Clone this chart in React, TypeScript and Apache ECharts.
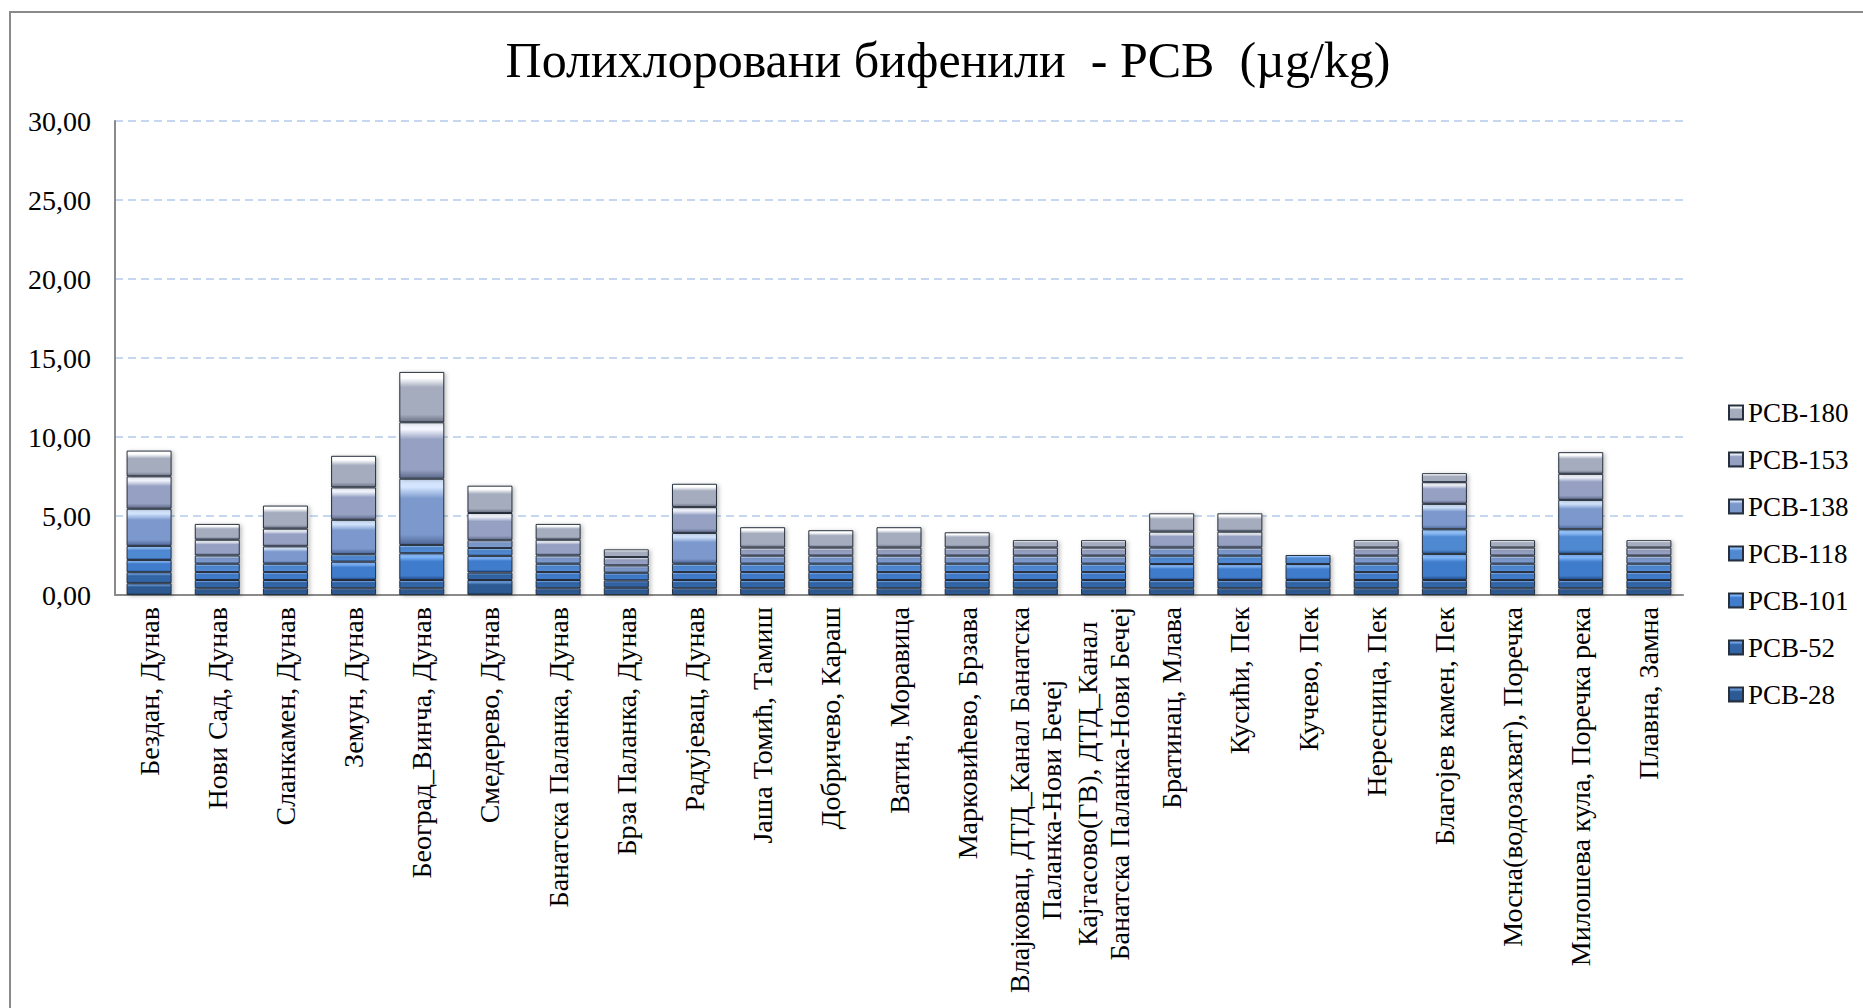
import React, { useEffect, useRef } from "react";
import * as echarts from "echarts";

const categories = [
  "Бездан, Дунав",
  "Нови Сад, Дунав",
  "Сланкамен, Дунав",
  "Земун, Дунав",
  "Београд_Винча, Дунав",
  "Смедерево, Дунав",
  "Банатска Паланка, Дунав",
  "Брза Паланка, Дунав",
  "Радујевац, Дунав",
  "Јаша Томић, Тамиш",
  "Добричево, Караш",
  "Ватин, Моравица",
  "Марковићево, Брзава",
  "Влајковац, ДТД_Канал Банатска\nПаланка-Нови Бечеј",
  "Кајтасово(ГВ), ДТД_Канал\nБанатска Паланка-Нови Бечеј",
  "Братинац, Млава",
  "Кусићи, Пек",
  "Кучево, Пек",
  "Нересница, Пек",
  "Благојев камен, Пек",
  "Мосна(водозахват), Поречка",
  "Милошева кула, Поречка река",
  "Плавна, Замна",
];

const pcb28 = [0.74, 0.42, 0.42, 0.42, 0.42, 0.95, 0.42, 0.46, 0.42, 0.42, 0.42, 0.42, 0.42, 0.42, 0.42, 0.42, 0.42, 0.42, 0.42, 0.42, 0.42, 0.42, 0.42];
const pcb52 = [0.70, 0.53, 0.53, 0.53, 0.53, 0.47, 0.53, 0.46, 0.53, 0.53, 0.53, 0.53, 0.53, 0.53, 0.53, 0.53, 0.53, 0.53, 0.53, 0.53, 0.53, 0.53, 0.53];
const pcb101 = [0.78, 0.50, 0.50, 1.16, 1.69, 1.06, 0.50, 0.49, 0.50, 0.50, 0.50, 0.50, 0.50, 0.50, 0.50, 1.01, 1.01, 1.01, 0.50, 1.65, 0.50, 1.65, 0.50];
const pcb118 = [0.89, 0.53, 0.53, 0.47, 0.53, 0.49, 0.53, 0, 0.53, 0.53, 0.53, 0.53, 0.53, 0.53, 0.53, 0.53, 0.53, 0.57, 0.53, 1.56, 0.53, 1.56, 0.53];
const pcb138 = [2.35, 0.52, 1.10, 2.18, 4.19, 0.49, 0.52, 0.46, 1.95, 0.51, 0.51, 0.51, 0.51, 0.51, 0.51, 0.51, 0.51, 0, 0.51, 1.61, 0.51, 1.86, 0.51];
const pcb153 = [2.05, 1.00, 1.12, 2.05, 3.57, 1.73, 1.00, 0.53, 1.63, 0.51, 0.51, 0.51, 0.51, 0.51, 0.51, 1.01, 1.01, 0, 0.51, 1.37, 0.51, 1.65, 0.51];
const pcb180 = [1.63, 1.00, 1.46, 2.00, 3.19, 1.73, 1.00, 0.49, 1.48, 1.29, 1.10, 1.29, 0.97, 0.47, 0.47, 1.16, 1.16, 0, 0.47, 0.57, 0.47, 1.37, 0.47];

const seriesNames = ["PCB-28", "PCB-52", "PCB-101", "PCB-118", "PCB-138", "PCB-153", "PCB-180"];
const seriesData = [pcb28, pcb52, pcb101, pcb118, pcb138, pcb153, pcb180];

const yTicks = { min: 0, max: 30, interval: 5 };
const titleText = "Полихлоровани бифенили  - PCB  (µg/kg)";

// [highlight, base, dark]
const palette = [
  ["#6d9fe0", "#2d5a94", "#16304f"],
  ["#78aaf0", "#3365a6", "#1a3a66"],
  ["#86bbff", "#3f7ccc", "#214c88"],
  ["#96c6ff", "#5089d2", "#2b5a96"],
  ["#d4e6ff", "#7b98cc", "#4f6698"],
  ["#f4f7ff", "#95a0c2", "#5e6888"],
  ["#ffffff", "#a4acbe", "#6a7284"],
];

const FONT = "Liberation Serif";

function grad(c: string[]) {
  return new echarts.graphic.LinearGradient(0, 0, 0, 1, [
    { offset: 0, color: c[0] },
    { offset: 0.12, color: c[0] },
    { offset: 0.3, color: c[1] },
    { offset: 0.85, color: c[1] },
    { offset: 1, color: c[2] },
  ]);
}

export default function App() {
  const ref = useRef<HTMLDivElement>(null);
  useEffect(() => {
    document.body.style.margin = "0";
    const chart = echarts.init(ref.current!, null, { renderer: "svg" });
    chart.setOption({
      animation: false,
      backgroundColor: "#ffffff",
      title: {
        text: titleText,
        left: 943,
        top: 30,
        textAlign: "center",
        textStyle: { fontFamily: FONT, fontSize: 50, fontWeight: "normal", color: "#000" },
      },
      graphic: [
        {
          type: "rect",
          shape: { x: 10, y: 12, width: 1900, height: 1100 },
          style: { fill: "none", stroke: "#8a8a8a", lineWidth: 2 },
          silent: true,
        },
      ],
      legend: {
        orient: "vertical",
        left: 1723,
        top: 394,
        itemWidth: 14,
        itemHeight: 14,
        itemGap: 20,
        icon: "rect",
        data: seriesNames.slice().reverse(),
        textStyle: { fontFamily: FONT, fontSize: 27, color: "#000" },
      },
      grid: { left: 115, right: 180, top: 121, bottom: 413 },
      xAxis: {
        type: "category",
        data: categories,
        axisLine: { lineStyle: { color: "#8a8a8a", width: 2 } },
        axisTick: { show: false },
        axisLabel: {
          rotate: 90,
          interval: 0,
          margin: 12,
          formatter: (v: string) => v.split("\n").map((l) => `{c|${l}}`).join("\n"),
          rich: {
            c: { align: "center", fontFamily: FONT, fontSize: 28, lineHeight: 32, color: "#000" },
          },
        },
      },
      yAxis: {
        type: "value",
        min: yTicks.min,
        max: yTicks.max,
        interval: yTicks.interval,
        axisLine: { show: true, lineStyle: { color: "#8a8a8a", width: 2 } },
        axisTick: { show: false },
        axisLabel: {
          margin: 24,
          fontFamily: FONT,
          fontSize: 28,
          color: "#000",
          formatter: (v: number) => v.toFixed(2).replace(".", ","),
        },
        splitLine: { lineStyle: { color: "#c6d8ef", width: 2, type: [8, 5] } },
      },
      series: seriesNames.map((name, i) => ({
        name,
        type: "bar",
        stack: "total",
        barWidth: 45,
        data: seriesData[i].map((v) => (v === 0 ? "-" : v)),
        itemStyle: {
          color: grad(palette[i]),
          borderColor: "#26303e",
          borderWidth: 1,
          shadowBlur: 4,
          shadowColor: "rgba(0,0,0,0.25)",
          shadowOffsetX: 2,
          shadowOffsetY: 1,
        },
      })),
    });
    return () => chart.dispose();
  }, []);
  return <div ref={ref} style={{ position: "fixed", left: 0, top: 0, width: 1863, height: 1008 }} />;
}
